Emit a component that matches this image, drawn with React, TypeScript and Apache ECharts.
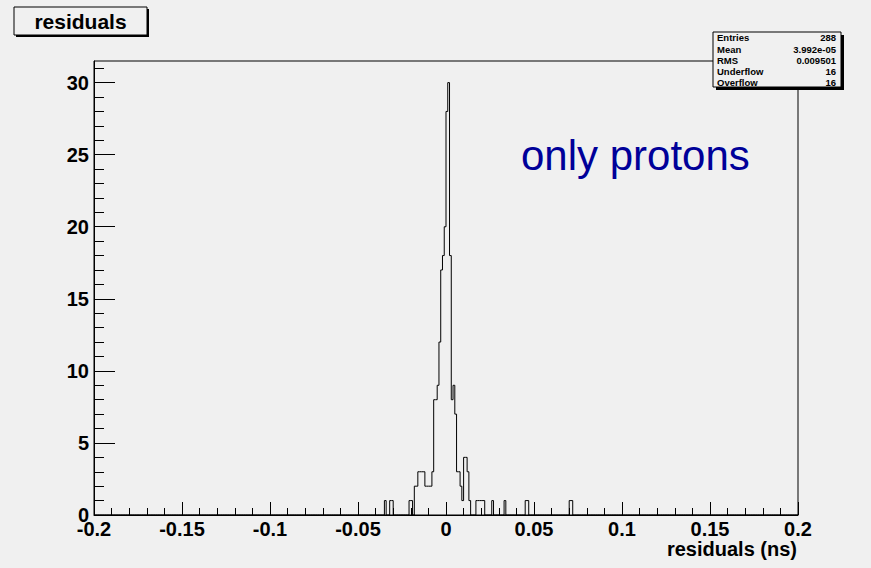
import React, { useEffect, useRef } from "react";
import * as echarts from "echarts";

// Histogram: 400 bins of width 0.001 from -0.2 to 0.2; only non-empty bins listed
const binWidth = 0.001;
const binIndex = [-35, -32, -31, -21, -20, -18, -17, -16, -15, -14, -13, -12, -11, -10, -9, -8, -7, -6, -5, -4, -3, -2, -1, 0, 1, 2, 3, 4, 5, 6, 7, 8, 9, 10, 11, 12, 13, 17, 18, 19, 20, 21, 26, 33, 45, 46, 70, 71];
const binCount = [1, 1, 1, 1, 1, 2, 2, 3, 3, 3, 3, 2, 2, 2, 2, 3, 8, 8, 9, 12, 17, 18, 20, 28, 30, 18, 8, 9, 7, 3, 3, 2, 1, 4, 4, 3, 1, 1, 1, 1, 1, 1, 1, 1, 1, 1, 1, 1];

const xTicks = [-0.2, -0.15, -0.1, -0.05, 0, 0.05, 0.1, 0.15, 0.2];
const yTicks = [0, 5, 10, 15, 20, 25, 30];

const statNames = ["Entries", "Mean", "RMS", "Underflow", "Overflow"];
const statValues = ["288", "3.992e-05", "0.009501", "16", "16"];

const titleText = "residuals";
const xTitle = "residuals (ns)";
const annotation = "only protons";

const FONT = '"Liberation Sans", Arial, Helvetica, sans-serif';

export default function App() {
  const ref = useRef<HTMLDivElement>(null);
  useEffect(() => {
    if (!ref.current) return;
    const chart = echarts.init(ref.current, null, { renderer: "svg" });

    const nBins = 400;
    const counts = new Array(nBins).fill(0);
    binIndex.forEach((k, i) => {
      counts[k + 200] = binCount[i];
    });
    const outline: number[][] = [[-0.2, 0]];
    for (let i = 0; i < nBins; i++) {
      const lo = (i - 200) * binWidth;
      const hi = (i - 199) * binWidth;
      outline.push([lo, counts[i]]);
      outline.push([hi, counts[i]]);
    }
    outline.push([0.2, 0]);

    const statGraphics: any[] = [];
    statNames.forEach((n, i) => {
      const y = 37.8 + i * 11.2;
      statGraphics.push({
        type: "text",
        x: 717,
        y,
        style: { text: n, font: `bold 9.5px ${FONT}`, fill: "#000", textAlign: "left", textVerticalAlign: "middle" },
      });
      statGraphics.push({
        type: "text",
        x: 836,
        y,
        style: { text: statValues[i], font: `bold 9.5px ${FONT}`, fill: "#000", textAlign: "right", textVerticalAlign: "middle" },
      });
    });

    const option: any = {
      animation: false,
      backgroundColor: "#f0f0f0",
      grid: {
        left: 94,
        right: 73,
        top: 61,
        bottom: 53,
        show: true,
        borderColor: "#000",
        borderWidth: 1,
        backgroundColor: "transparent",
      },
      xAxis: {
        type: "value",
        min: -0.2,
        max: 0.2,
        interval: 0.05,
        axisLine: { show: true, onZero: false, lineStyle: { color: "#000", width: 1 } },
        axisTick: { show: true, inside: true, length: 13, lineStyle: { color: "#000", width: 1 }, customValues: xTicks },
        minorTick: { show: true, splitNumber: 5, length: 7, lineStyle: { color: "#000", width: 1 } },
        splitLine: { show: false },
        minorSplitLine: { show: false },
        axisLabel: {
          customValues: xTicks,
          formatter: (v: number) => String(parseFloat(v.toFixed(2))),
          fontFamily: FONT,
          fontWeight: "bold",
          fontSize: 20,
          color: "#000",
          margin: 4,
        },
      },
      yAxis: {
        type: "value",
        min: 0,
        max: 31.5,
        interval: 5,
        axisLine: { show: true, onZero: false, lineStyle: { color: "#000", width: 1 } },
        axisTick: { show: true, inside: true, length: 21, lineStyle: { color: "#000", width: 1 }, customValues: yTicks },
        minorTick: { show: true, splitNumber: 5, length: 10, lineStyle: { color: "#000", width: 1 } },
        splitLine: { show: false },
        minorSplitLine: { show: false },
        axisLabel: {
          customValues: yTicks,
          fontFamily: FONT,
          fontWeight: "bold",
          fontSize: 20,
          color: "#000",
          margin: 5,
        },
      },
      series: [
        {
          type: "line",
          data: outline,
          showSymbol: false,
          symbol: "none",
          lineStyle: { color: "#000", width: 1 },
          silent: true,
          clip: true,
        },
      ],
      graphic: [
        // title box
        { type: "rect", shape: { x: 16, y: 9, width: 133, height: 28 }, style: { fill: "#000" } },
        { type: "rect", shape: { x: 14, y: 7, width: 133, height: 28 }, style: { fill: "#f0f0f0", stroke: "#000", lineWidth: 1 } },
        {
          type: "text",
          x: 80.5,
          y: 21,
          style: { text: titleText, font: `bold 21px ${FONT}`, fill: "#000", textAlign: "center", textVerticalAlign: "middle" },
        },
        // stats box
        { type: "rect", shape: { x: 716, y: 35, width: 128, height: 55 }, style: { fill: "#000" } },
        { type: "rect", shape: { x: 713, y: 32, width: 128, height: 55 }, style: { fill: "#f0f0f0", stroke: "#000", lineWidth: 1 } },
        ...statGraphics,
        // annotation
        {
          type: "text",
          x: 521,
          y: 155.5,
          style: { text: annotation, font: `42px ${FONT}`, fill: "#000099", textAlign: "left", textVerticalAlign: "middle" },
        },
        // x axis title
        {
          type: "text",
          x: 797,
          y: 549,
          style: { text: xTitle, font: `bold 20px ${FONT}`, fill: "#000", textAlign: "right", textVerticalAlign: "middle" },
        },
      ],
    };
    chart.setOption(option);
    return () => chart.dispose();
  }, []);
  return (
    <div
      ref={ref}
      style={{ position: "fixed", left: 0, top: 0, width: 871, height: 568, background: "#f0f0f0" }}
    />
  );
}
